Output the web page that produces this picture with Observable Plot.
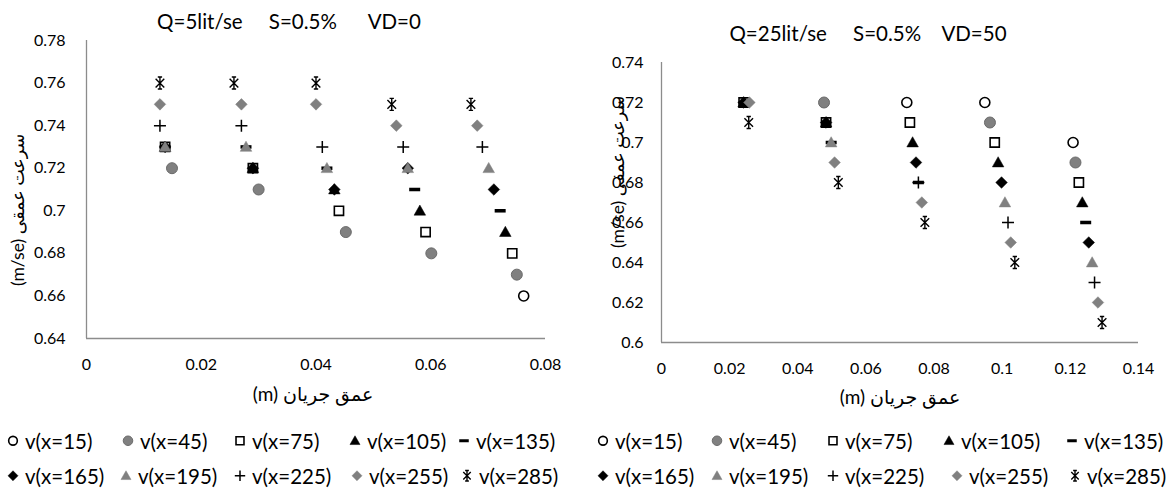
<!DOCTYPE html>
<html><head><meta charset="utf-8">
<script src="https://cdn.jsdelivr.net/npm/d3@7"></script>
<script src="https://cdn.jsdelivr.net/npm/@observablehq/plot@0.6"></script>
<style>
body{margin:0;background:#fff;width:1174px;height:498px;overflow:hidden;font-family:Lato,"DejaVu Sans",sans-serif;color:#000;}
#wrap{position:relative;width:1174px;height:498px;}
.abs{position:absolute;white-space:pre;line-height:1;}
.ctitle{font-size:20.5px;transform:translate(-50%,-50%);}
.xtitle{font-size:19px;transform:translate(-50%,-50%);}
.ytitle{font-size:17.5px;transform:translate(-50%,-50%) rotate(-90deg);}
.leg{font-size:20.5px;display:flex;align-items:center;transform:translateY(-50%);}
.leg svg{margin-right:5px;}
</style></head>
<body><div id="wrap"></div>
<script>
// ---------- data ----------
const seriesNames = ["v(x=15)","v(x=45)","v(x=75)","v(x=105)","v(x=135)","v(x=165)","v(x=195)","v(x=225)","v(x=255)","v(x=285)"];
const titleA = "Q=5lit/se     S=0.5%      VD=0";
const titleB = "Q=25lit/se     S=0.5%    VD=50";
const xTitle = "(m) عمق جریان";
const yTitle = "(m/se) سرعت عمقی";
const xTicksA = [0, 0.02, 0.04, 0.06, 0.08];
const yTicksA = [0.64, 0.66, 0.68, 0.70, 0.72, 0.74, 0.76, 0.78];
const xTicksB = [0, 0.02, 0.04, 0.06, 0.08, 0.10, 0.12, 0.14];
const yTicksB = [0.60, 0.62, 0.64, 0.66, 0.68, 0.70, 0.72, 0.74];

// chart A (Q=5) : [depth, velocity]
const A15  = [[0.0762,0.66]];
const A45  = [[0.0149,0.72],[0.0300,0.71],[0.0452,0.69],[0.0601,0.68],[0.0750,0.67]];
const A75  = [[0.0137,0.73],[0.0290,0.72],[0.0440,0.70],[0.0591,0.69],[0.0742,0.68]];
const A105 = [[0.0137,0.73],[0.0290,0.72],[0.0432,0.71],[0.0581,0.70],[0.0730,0.69]];
const A135 = [[0.0137,0.73],[0.0278,0.73],[0.0419,0.72],[0.0572,0.71],[0.0721,0.70]];
const A165 = [[0.0137,0.73],[0.0290,0.72],[0.0432,0.71],[0.0560,0.72],[0.0710,0.71]];
const A195 = [[0.0137,0.73],[0.0278,0.73],[0.0419,0.72],[0.0560,0.72],[0.0701,0.72]];
const A225 = [[0.0128,0.74],[0.0270,0.74],[0.0411,0.73],[0.0552,0.73],[0.0690,0.73]];
const A255 = [[0.0128,0.75],[0.0270,0.75],[0.0400,0.75],[0.0540,0.74],[0.0681,0.74]];
const A285 = [[0.0128,0.76],[0.0257,0.76],[0.0400,0.76],[0.0532,0.75],[0.0670,0.75]];

// chart B (Q=25) : [depth, velocity]
const B15  = [[0.0720,0.72],[0.0949,0.72],[0.1208,0.70]];
const B45  = [[0.0477,0.72],[0.0964,0.71],[0.1215,0.69]];
const B75  = [[0.0241,0.72],[0.0483,0.71],[0.0729,0.71],[0.0978,0.70],[0.1225,0.68]];
const B105 = [[0.0241,0.72],[0.0483,0.71],[0.0737,0.70],[0.0988,0.69],[0.1235,0.67]];
const B135 = [[0.0498,0.70],[0.0754,0.68],[0.1245,0.66]];
const B165 = [[0.0241,0.72],[0.0483,0.71],[0.0747,0.69],[0.0998,0.68],[0.1254,0.65]];
const B195 = [[0.0498,0.70],[0.1008,0.67],[0.1264,0.64]];
const B225 = [[0.0754,0.68],[0.1017,0.66],[0.1271,0.63]];
const B255 = [[0.0258,0.72],[0.0508,0.69],[0.0764,0.67],[0.1025,0.65],[0.1281,0.62]];
const B285 = [[0.0256,0.71],[0.0519,0.68],[0.0773,0.66],[0.1037,0.64],[0.1293,0.61]];

const seriesA = [A15,A45,A75,A105,A135,A165,A195,A225,A255,A285];
const seriesB = [B15,B45,B75,B105,B135,B165,B195,B225,B255,B285];

// ---------- symbols ----------
const R = s => Math.sqrt(s / Math.PI);
const symCircle = {draw(c,s){const r=R(s);c.moveTo(r,0);c.arc(0,0,r,0,2*Math.PI);}};
const symSquare = {draw(c,s){const r=R(s);c.rect(-r,-r,2*r,2*r);}};
const symTri = {draw(c,s){const r=R(s);c.moveTo(0,-r*1.05);c.lineTo(r*1.05,r*0.8);c.lineTo(-r*1.05,r*0.8);c.closePath();}};
const symDiamond = {draw(c,s){const r=R(s);c.moveTo(0,-r);c.lineTo(r,0);c.lineTo(0,r);c.lineTo(-r,0);c.closePath();}};
const symDash = {draw(c,s){const r=R(s);c.rect(-r,-r*0.32,2*r,r*0.64);}};
const symPlus = {draw(c,s){const r=R(s);c.moveTo(-r,0);c.lineTo(r,0);c.moveTo(0,-r);c.lineTo(0,r);}};
const symStar = {draw(c,s){const r=R(s);const k=r*0.72;c.moveTo(0,-r);c.lineTo(0,r);c.moveTo(-k,-k);c.lineTo(k,k);c.moveTo(-k,k);c.lineTo(k,-k);c.moveTo(-k*0.5,-r);c.lineTo(k*0.5,-r);c.moveTo(-k*0.5,r);c.lineTo(k*0.5,r);}};

const GRAY = "#808080";
const styles = [
  {symbol:symCircle, r:5, fill:"#fff", stroke:"#000", strokeWidth:1.6},
  {symbol:symCircle, r:5.5, fill:GRAY, stroke:"#6a6a6a", strokeWidth:1},
  {symbol:symSquare, r:4.6, fill:"#fff", stroke:"#000", strokeWidth:1.6},
  {symbol:symTri, r:5.5, fill:"#000", stroke:"#000", strokeWidth:0.5},
  {symbol:symDash, r:5.5, fill:"#000", stroke:"none", strokeWidth:0},
  {symbol:symDiamond, r:5.8, fill:"#000", stroke:"#000", strokeWidth:0.5},
  {symbol:symTri, r:5.5, fill:GRAY, stroke:GRAY, strokeWidth:0.5},
  {symbol:symPlus, r:6, fill:"none", stroke:"#000", strokeWidth:1.5},
  {symbol:symDiamond, r:5.8, fill:GRAY, stroke:GRAY, strokeWidth:0.5},
  {symbol:symStar, r:6, fill:"none", stroke:"#000", strokeWidth:1.4}
];

const fmt = d => String(Math.round(d*100)/100);
const AXIS = "#8c8c8c";

function chart(series, xd, yd, xt, yt, m, w, h){
  const marks = [
    Plot.ruleX([xd[0]], {stroke:AXIS, strokeWidth:1.3}),
    Plot.ruleY([yd[0]], {stroke:AXIS, strokeWidth:1.3}),
    Plot.axisX({ticks:xt, tickFormat:fmt, tickSize:0, tickPadding:m.xpad, label:null}),
    Plot.axisY({ticks:yt, tickFormat:fmt, tickSize:0, tickPadding:m.ypad, label:null})
  ];
  series.forEach((data,i)=>{
    const st = styles[i];
    marks.push(Plot.dot(data, {x:d=>d[0], y:d=>d[1], symbol:st.symbol, r:st.r, fill:st.fill, stroke:st.stroke, strokeWidth:st.strokeWidth}));
  });
  return Plot.plot({
    width:w, height:h,
    marginLeft:m.l, marginRight:m.r, marginTop:m.t, marginBottom:m.b,
    x:{domain:xd}, y:{domain:yd},
    style:{fontFamily:"Lato, 'DejaVu Sans', sans-serif", fontSize:"16px", color:"#000", background:"transparent"},
    marks
  });
}

const wrap = document.getElementById("wrap");
function place(el, left, top){el.style.position="absolute";el.style.left=left+"px";el.style.top=top+"px";wrap.appendChild(el);}

const svgA = chart(seriesA, [0,0.08], [0.64,0.78], xTicksA, yTicksA, {l:86,r:45,t:40,b:62,xpad:20,ypad:21}, 590, 400);
place(svgA, 0, 0);
const svgB = chart(seriesB, [0,0.14], [0.60,0.74], xTicksB, yTicksB, {l:71,r:36,t:62,b:58,xpad:20,ypad:18}, 584, 400);
place(svgB, 590, 0);

function text(cls, str, x, y){const d=document.createElement("div");d.className="abs "+cls;d.textContent=str;place(d,x,y);return d;}
text("ctitle", titleA, 289, 21);
text("ctitle", titleB, 868, 33);
text("xtitle", xTitle, 313, 393);
text("xtitle", xTitle, 900, 396);
text("ytitle", yTitle, 18, 210);
text("ytitle", yTitle, 618, 172);

// legends
function legend(x0s, rows){
  rows.forEach((row,ri)=>{
    row.forEach((xpos,ci)=>{
      const i = ri*5+ci;
      const st = styles[i];
      const d = document.createElement("div");
      d.className = "abs leg";
      const svg = d3.create("svg").attr("width",14).attr("height",16);
      svg.append("path").attr("transform","translate(7,8)")
        .attr("d", d3.symbol(st.symbol, st.r*st.r*Math.PI*0.75)())
        .attr("fill", st.fill).attr("stroke", st.stroke).attr("stroke-width", st.strokeWidth);
      d.appendChild(svg.node());
      const t = document.createElement("span"); t.textContent = seriesNames[i]; d.appendChild(t);
      place(d, xpos-7, x0s[ri]);
    });
  });
}
legend([441,476], [[13,128,240,355,464],[13,126,240,357,467]]);
legend([441,476], [[603,717,833,949,1072],[603,717,833,957,1075]]);
</script></body></html>
